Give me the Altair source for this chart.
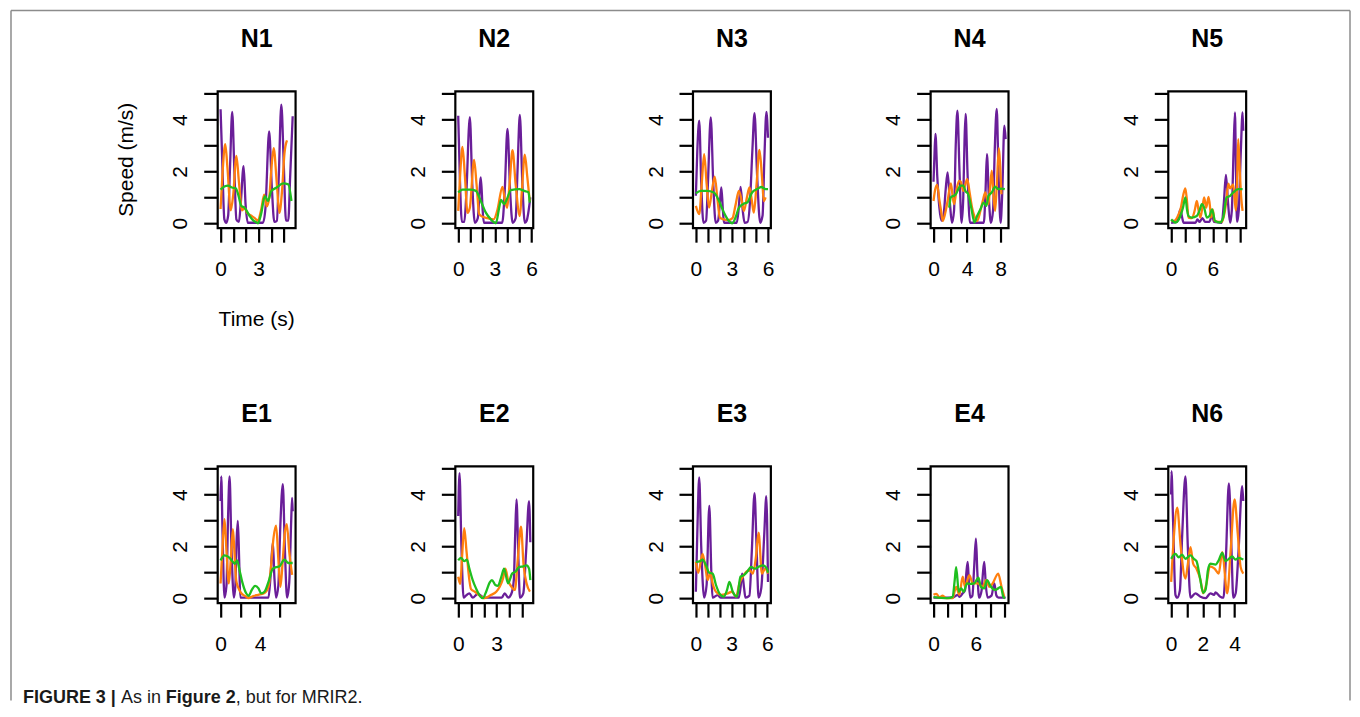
import altair as alt
import pandas as pd

FONT = "Liberation Sans"
PURPLE = "#6a1e99"
ORANGE = "#ff7f0e"
GREEN = "#1fbf1f"
LW = 2.3
W, H = 78, 137

Y_TICKS = [0, 1, 2, 3, 4, 5]
Y_LABELS = [0, 2, 4]
Y_DOMAIN = [-0.19, 5.09]

# ---------------- data: (time s, speed m/s) ----------------
N1_PURPLE = [(0, 4.4), (0.12, 2.6), (0.3, 0.15), (0.45, 0.02), (0.6, 0.3), (0.75, 2.2), (0.92, 4.3), (1.08, 2.2),
             (1.25, 0.15), (1.45, 0.05), (1.6, 0.8), (1.82, 2.2), (1.98, 0.7), (2.15, 0.02), (3.35, 0.02), (3.55, 0.6),
             (3.84, 3.55), (4.05, 1.4), (4.25, 0.05), (4.45, 0.1), (4.6, 1.8), (4.8, 4.58), (5.0, 2.2), (5.17, 0.1),
             (5.35, 0.1), (5.5, 1.8), (5.7, 4.13)]
N1_ORANGE = [(0, 0.55), (0.15, 1.9), (0.37, 3.05), (0.55, 2.1), (0.8, 0.5), (1.0, 1.1), (1.25, 2.6), (1.45, 1.6),
             (1.7, 0.5), (1.9, 0.6), (2.1, 0.4), (2.4, 0.3), (2.7, 0.2), (2.95, 0.1), (3.2, 0.5), (3.45, 1.1),
             (3.65, 0.65), (3.85, 1.0), (4.0, 2.0), (4.2, 2.9), (4.45, 1.5), (4.65, 0.4), (4.85, 1.2), (5.05, 2.7),
             (5.25, 3.2)]
N1_GREEN = [(0, 1.3), (0.3, 1.42), (0.6, 1.45), (0.9, 1.38), (1.2, 1.35), (1.4, 1.1), (1.64, 0.67), (1.9, 0.6),
            (2.3, 0.28), (2.6, 0.1), (2.85, 0.03), (2.96, 0.0), (3.2, 0.35), (3.5, 1.05), (3.75, 0.86), (4.0, 1.24),
            (4.4, 1.37), (4.95, 1.54), (5.35, 1.5), (5.6, 0.86)]

N2_PURPLE = [(0, 4.15), (0.12, 2.0), (0.3, 0.05), (0.5, 0.05), (0.65, 1.0), (0.95, 4.1), (1.15, 1.5), (1.36, 0.02),
             (1.6, 0.2), (1.85, 1.77), (2.0, 0.5), (2.1, 0.02), (3.6, 0.02), (3.8, 1.2), (4.03, 3.64), (4.25, 1.2),
             (4.45, 0.02), (4.7, 0.2), (4.85, 2.0), (5.04, 4.18), (5.25, 1.5), (5.45, 0.02), (5.6, 0.1), (5.9, 1.0)]
N2_ORANGE = [(0, 0.48), (0.15, 1.8), (0.35, 2.95), (0.55, 1.8), (0.76, 0.4), (0.95, 0.6), (1.3, 2.45), (1.5, 1.5),
             (1.72, 0.35), (2.0, 0.25), (2.4, 0.2), (2.9, 0.15), (3.2, 0.5), (3.62, 1.4), (3.82, 0.9), (4.0, 0.6),
             (4.2, 1.5), (4.44, 2.82), (4.7, 1.5), (5.04, 0.28), (5.2, 1.2), (5.45, 2.65), (5.65, 1.8), (5.85, 0.86)]
N2_GREEN = [(0, 1.19), (0.35, 1.3), (0.7, 1.3), (1.0, 1.3), (1.45, 1.25), (1.85, 0.86), (2.26, 0.41), (2.67, 0.15),
            (2.94, 0.03), (3.08, 0.0), (3.35, 0.6), (3.5, 0.9), (3.76, 0.74), (3.98, 0.93), (4.3, 1.28), (5.0, 1.32),
            (5.4, 1.25), (5.75, 1.2), (5.85, 0.8)]

N3_PURPLE = [(0, 1.06), (0.12, 2.8), (0.28, 3.96), (0.45, 1.5), (0.63, 0.02), (0.85, 0.1), (1.0, 1.5), (1.24, 4.09),
             (1.45, 1.5), (1.65, 0.02), (1.85, 0.1), (2.0, 0.8), (2.12, 1.38), (2.25, 0.5), (2.34, 0.02), (3.4, 0.02),
             (3.55, 0.5), (3.72, 1.4), (3.9, 0.5), (4.05, 0.02), (4.3, 0.05), (4.5, 0.8), (4.7, 2.8), (4.88, 4.25),
             (5.1, 1.8), (5.35, 0.02), (5.55, 0.3), (5.7, 2.5), (5.87, 4.3), (6.0, 3.3)]
N3_ORANGE = [(0, 0.67), (0.28, 0.35), (0.5, 1.6), (0.69, 2.67), (0.9, 1.5), (1.1, 0.6), (1.35, 1.3), (1.57, 1.8),
             (1.8, 0.9), (2.0, 0.22), (2.3, 0.15), (2.7, 0.12), (3.05, 0.2), (3.3, 0.7), (3.58, 1.25), (3.8, 0.9),
             (4.0, 0.48), (4.25, 1.0), (4.46, 1.38), (4.65, 0.9), (4.82, 0.41), (5.05, 1.5), (5.29, 2.83), (5.5, 1.8),
             (5.65, 0.86), (5.8, 1.0)]
N3_GREEN = [(0, 1.15), (0.4, 1.25), (0.9, 1.25), (1.5, 1.19), (1.93, 0.86), (2.34, 0.41), (2.75, 0.09), (3.03, 0.0),
            (3.3, 0.22), (3.58, 0.6), (4.0, 0.76), (4.27, 0.8), (4.68, 1.19), (5.1, 1.32), (5.43, 1.4), (5.8, 1.32),
            (6.0, 1.32)]

N4_PURPLE = [(0, 1.6), (0.1, 2.5), (0.23, 3.45), (0.45, 1.8), (0.7, 0.6), (0.95, 0.1), (1.2, 0.3), (1.45, 1.3),
             (1.68, 1.96), (1.95, 0.8), (2.2, 0.02), (2.45, 0.5), (2.65, 3.0), (2.85, 4.35), (3.1, 2.0), (3.35, 0.02),
             (3.55, 1.0), (3.7, 3.2), (3.83, 4.22), (4.05, 2.0), (4.35, 0.02), (6.0, 0.02), (6.2, 1.2), (6.37, 2.67),
             (6.6, 1.0), (6.84, 0.02), (7.1, 0.5), (7.3, 2.8), (7.54, 4.41), (7.75, 2.0), (8.0, 0.02), (8.2, 1.2),
             (8.45, 3.77), (8.6, 3.25)]
N4_ORANGE = [(0, 0.86), (0.2, 1.3), (0.43, 1.48), (0.7, 0.9), (0.9, 0.48), (1.1, 0.09), (1.4, 0.4), (1.68, 0.86),
             (2.07, 1.54), (2.3, 1.0), (2.46, 0.74), (2.75, 1.3), (3.05, 1.64), (3.25, 1.6), (3.55, 1.25), (3.8, 1.5),
             (4.02, 1.7), (4.3, 1.2), (4.6, 0.6), (4.9, 0.25), (5.2, 0.09), (5.59, 0.48), (5.9, 0.9), (6.17, 1.19),
             (6.4, 0.9), (6.56, 0.74), (6.75, 1.4), (6.95, 2.03), (7.15, 1.1), (7.34, 0.48), (7.55, 1.5), (7.8, 2.9),
             (7.95, 2.2), (8.1, 1.12)]
N4_GREEN = [(1.87, 0.6), (2.07, 1.0), (2.66, 1.12), (3.0, 1.35), (3.24, 1.45), (3.55, 1.45), (3.83, 1.23), (4.1, 1.15),
            (4.5, 0.6), (4.88, 0.03), (5.2, 0.28), (5.59, 0.54), (5.98, 0.8), (6.29, 0.67), (6.56, 1.06), (6.95, 1.19),
            (7.34, 1.41), (7.73, 1.32), (8.1, 1.34), (8.5, 1.32)]

N5_PURPLE = [(0, 0.02), (0.8, 0.05), (1.1, 0.3), (1.33, 0.54), (1.6, 0.2), (1.8, 0.02), (3.5, 0.02), (3.8, 0.15),
             (4.1, 0.05), (4.5, 0.2), (4.9, 0.05), (5.5, 0.05), (5.9, 0.3), (6.2, 0.05), (7.3, 0.02), (7.6, 0.8),
             (7.9, 1.87), (8.2, 0.8), (8.5, 0.02), (8.75, 0.5), (9.0, 2.8), (9.2, 4.28), (9.35, 2.0), (9.5, 0.05),
             (9.75, 0.5), (10.05, 2.8), (10.3, 4.28), (10.4, 3.57)]
N5_ORANGE = [(0, 0.09), (0.5, 0.1), (1.0, 0.3), (1.4, 0.6), (1.75, 1.1), (2.05, 1.35), (2.3, 0.8), (2.5, 0.22),
             (3.0, 0.2), (3.4, 0.5), (3.7, 0.86), (3.95, 0.5), (4.2, 0.22), (4.5, 0.6), (4.76, 1.0), (5.05, 0.6),
             (5.4, 1.02), (5.65, 0.5), (5.75, 0.22), (6.0, 0.54), (6.25, 0.1), (6.8, 0.05), (7.3, 0.05), (7.7, 0.4),
             (7.95, 0.86), (8.24, 1.53), (8.5, 1.35), (8.95, 1.5), (9.2, 0.8), (9.35, 0.5), (9.5, 1.5), (9.67, 3.25),
             (9.9, 2.0), (10.1, 1.0), (10.3, 0.48)]
N5_GREEN = [(0, 0.15), (0.6, 0.03), (1.33, 0.28), (1.7, 0.6), (2.05, 1.0), (2.3, 0.5), (2.5, 0.28), (3.0, 0.22),
            (3.7, 0.28), (4.1, 0.5), (4.43, 0.74), (4.76, 0.6), (5.14, 0.22), (5.52, 0.28), (5.9, 0.54), (6.33, 0.09),
            (7.05, 0.03), (7.5, 0.22), (8.0, 1.0), (8.5, 1.06), (8.95, 1.19), (9.67, 1.32), (10.3, 1.32)]

E1_PURPLE = [(0, 3.75), (0.07, 4.7), (0.2, 2.5), (0.4, 0.02), (0.6, 0.5), (0.75, 3.0), (0.91, 4.7), (1.1, 2.0),
             (1.35, 0.02), (1.5, 0.5), (1.62, 2.2), (1.75, 2.98), (1.88, 1.5), (2.0, 0.02), (4.85, 0.02), (5.05, 0.8),
             (5.29, 2.16), (5.45, 0.8), (5.62, 0.02), (5.85, 0.5), (6.05, 2.8), (6.3, 4.4), (6.5, 2.0), (6.73, 0.02),
             (6.95, 0.6), (7.15, 3.0), (7.24, 3.87), (7.3, 3.36)]
E1_ORANGE = [(0, 0.57), (0.2, 2.0), (0.4, 3.05), (0.6, 1.8), (0.84, 0.57), (1.05, 1.6), (1.25, 2.67), (1.4, 1.8),
             (1.58, 0.7), (1.8, 0.4), (2.1, 0.19), (2.5, 0.08), (2.83, 0.0), (3.3, 0.08), (3.8, 0.13), (4.4, 0.19),
             (4.85, 0.44), (5.1, 1.2), (5.35, 2.3), (5.62, 2.8), (5.85, 1.5), (6.06, 0.44), (6.3, 1.5), (6.5, 2.5),
             (6.7, 2.86), (6.95, 1.8), (7.24, 0.9)]
E1_GREEN = [(0, 1.46), (0.4, 1.65), (0.91, 1.56), (1.25, 1.4), (1.45, 1.33), (1.68, 1.46), (1.92, 1.08), (2.19, 0.63),
            (2.59, 0.19), (2.83, 0.09), (3.16, 0.32), (3.5, 0.48), (3.84, 0.38), (4.1, 0.19), (4.44, 0.25),
            (4.85, 0.63), (5.29, 1.14), (5.62, 1.2), (5.96, 1.23), (6.46, 1.49), (6.85, 1.36), (7.3, 1.36)]

E2_PURPLE = [(0, 3.17), (0.1, 4.83), (0.25, 2.0), (0.42, 0.02), (0.6, 0.1), (0.87, 0.19), (1.13, 0.02), (1.53, 0.17),
             (2.05, 0.02), (3.4, 0.02), (3.63, 0.19), (3.9, 0.02), (4.15, 0.17), (4.34, 0.7), (4.45, 2.5),
             (4.55, 3.81), (4.7, 1.5), (4.82, 0.02), (5.08, 0.19), (5.3, 1.8), (5.53, 3.75), (5.63, 2.16)]
E2_ORANGE = [(0, 0.83), (0.16, 0.55), (0.3, 1.6), (0.47, 2.7), (0.65, 1.8), (0.87, 0.7), (1.0, 0.35), (1.3, 0.25),
             (1.8, 0.06), (2.05, 0.0), (2.58, 0.13), (2.97, 0.25), (3.24, 0.44), (3.5, 0.76), (3.68, 1.14),
             (3.89, 0.7), (4.16, 0.44), (4.42, 0.32), (4.65, 1.5), (4.9, 2.76), (5.1, 1.3), (5.34, 0.57), (5.6, 0.25)]
E2_GREEN = [(0, 1.46), (0.21, 1.56), (0.47, 1.43), (0.68, 1.49), (0.87, 1.14), (1.13, 0.7), (1.39, 0.38), (1.74, 0.06),
            (1.92, 0.0), (2.18, 0.25), (2.45, 0.6), (2.63, 0.7), (2.9, 0.51), (3.1, 0.48), (3.37, 0.83), (3.58, 1.14),
            (3.89, 0.57), (4.21, 0.95), (4.47, 1.02), (4.74, 1.2), (5.08, 1.23), (5.34, 1.27), (5.53, 1.14),
            (5.63, 0.7)]

E3_PURPLE = [(0, 0.25), (0.12, 2.5), (0.28, 4.66), (0.45, 2.0), (0.7, 0.02), (0.9, 0.5), (1.13, 3.56), (1.3, 1.0),
             (1.4, 0.02), (1.83, 0.12), (2.1, 0.02), (3.6, 0.02), (3.75, 0.4), (3.89, 0.95), (4.05, 0.4), (4.17, 0.02),
             (4.5, 0.1), (4.7, 1.8), (4.93, 4.06), (5.1, 2.0), (5.27, 0.02), (5.5, 0.4), (5.75, 2.5), (5.92, 3.94),
             (6.06, 0.63)]
E3_ORANGE = [(0, 1.4), (0.2, 0.98), (0.56, 1.71), (0.8, 1.2), (0.99, 0.7), (1.21, 1.0), (1.41, 0.57), (1.69, 0.25),
             (2.11, 0.13), (2.68, 0.19), (3.03, 0.25), (3.38, 0.06), (3.66, 0.57), (3.94, 0.83), (4.23, 1.02),
             (4.51, 1.08), (4.79, 0.95), (5.05, 1.6), (5.27, 2.53), (5.55, 0.95), (5.83, 1.14), (6.06, 0.95)]
E3_GREEN = [(0, 1.4), (0.37, 1.43), (0.56, 1.49), (0.85, 1.27), (1.13, 0.98), (1.41, 0.95), (1.69, 0.51), (2.06, 0.13),
            (2.34, 0.06), (2.62, 0.32), (2.82, 0.63), (3.1, 0.25), (3.46, 0.06), (3.75, 0.83), (4.03, 0.89),
            (4.31, 1.02), (4.65, 1.21), (4.93, 1.14), (5.27, 1.21), (5.63, 1.27), (5.97, 1.14), (6.06, 0.98)]

E4_PURPLE = [(0, 0.02), (2.7, 0.02), (3.05, 0.08), (3.43, 0.13), (3.7, 0.05), (4.13, 0.19), (4.45, 0.3), (4.65, 1.0),
             (4.84, 1.4), (5.0, 0.6), (5.2, 0.02), (5.5, 0.1), (5.75, 1.2), (6.0, 2.3), (6.2, 1.0), (6.45, 0.02),
             (6.8, 0.3), (7.0, 1.0), (7.18, 1.4), (7.4, 0.5), (7.65, 0.02), (8.2, 0.1), (8.6, 0.57), (8.9, 0.1),
             (9.2, 0.02), (10.2, 0.02)]
E4_ORANGE = [(0, 0.13), (0.4, 0.17), (0.85, 0.04), (1.3, 0.1), (1.8, 0.0), (2.7, 0.0), (3.2, 0.44), (3.65, 0.13),
             (4.13, 0.83), (4.46, 0.44), (5.07, 0.89), (5.54, 0.57), (6.24, 0.57), (6.95, 0.44), (7.42, 0.7),
             (7.89, 0.44), (8.36, 0.57), (9.15, 0.95), (9.62, 0.44), (10.0, 0.06)]
E4_GREEN = [(0, 0.04), (2.0, 0.0), (2.7, 0.06), (3.0, 0.7), (3.2, 1.2), (3.57, 0.25), (3.9, 0.38), (4.27, 0.25),
            (4.74, 0.57), (5.21, 0.55), (5.77, 0.57), (6.34, 0.79), (6.71, 0.44), (7.18, 0.38), (7.56, 0.7),
            (8.12, 0.44), (8.69, 0.32), (9.15, 0.38), (9.53, 0.44), (9.86, 0.06), (10.1, 0.0)]

N6_PURPLE = [(0, 4.0), (0.02, 4.9), (0.12, 3.0), (0.27, 0.13), (0.38, 0.02), (0.55, 0.3), (0.7, 2.5), (0.9, 4.7),
             (1.05, 2.0), (1.22, 0.02), (1.53, 0.19), (1.85, 0.06), (2.17, 0.0), (2.48, 0.19), (2.7, 0.13),
             (2.8, 0.22), (3.1, 0.06), (3.3, 0.02), (3.45, 1.5), (3.64, 4.43), (3.8, 2.0), (3.92, 0.02), (4.07, 0.19),
             (4.25, 1.8), (4.48, 4.33), (4.55, 3.75)]
N6_ORANGE = [(0, 0.63), (0.15, 2.2), (0.38, 3.5), (0.6, 2.0), (0.9, 0.76), (1.05, 1.3), (1.22, 1.97), (1.39, 1.33),
             (1.6, 1.14), (1.85, 0.7), (2.02, 0.19), (2.23, 0.57), (2.44, 1.23), (2.74, 1.14), (3.0, 0.95),
             (3.22, 1.78), (3.54, 0.19), (3.75, 1.8), (4.0, 3.81), (4.2, 2.5), (4.38, 1.21), (4.55, 0.95)]
N6_GREEN = [(0, 1.52), (0.27, 1.71), (0.48, 1.58), (0.69, 1.68), (0.9, 1.52), (1.22, 1.65), (1.43, 1.52), (1.6, 1.43),
            (1.81, 0.82), (2.02, 0.21), (2.17, 0.32), (2.32, 1.08), (2.48, 1.33), (2.8, 1.3), (3.0, 1.46), (3.22, 1.75),
            (3.43, 1.43), (3.64, 1.52), (3.85, 1.61), (4.06, 1.49), (4.27, 1.56), (4.55, 1.49)]

# x-axis ticks and the tick labels that are printed
N1_XTICKS, N1_XLABELS = [0, 1, 2, 3, 4, 5], [0, 3]
N2_XTICKS, N2_XLABELS = [0, 1, 2, 3, 4, 5, 6], [0, 3, 6]
N3_XTICKS, N3_XLABELS = [0, 1, 2, 3, 4, 5, 6], [0, 3, 6]
N4_XTICKS, N4_XLABELS = [0, 2, 4, 6, 8], [0, 4, 8]
N5_XTICKS, N5_XLABELS = [0, 2, 4, 6, 8, 10], [0, 6]
E1_XTICKS, E1_XLABELS = [0, 2, 4, 6], [0, 4]
E2_XTICKS, E2_XLABELS = [0, 1, 2, 3, 4, 5], [0, 3]
E3_XTICKS, E3_XLABELS = [0, 1, 2, 3, 4, 5, 6], [0, 3, 6]
E4_XTICKS, E4_XLABELS = [0, 2, 4, 6, 8, 10], [0, 6]
N6_XTICKS, N6_XLABELS = [0, 1, 2, 3, 4], [0, 2, 4]

ONE = pd.DataFrame({"k": [0]})


def lab_expr(labels):
    return "indexof(" + str(list(labels)) + ", datum.value) >= 0 ? datum.label : ''"


def text_layer(text, x, y, size, weight="normal", angle=0, align="center", baseline="middle", color="black"):
    return alt.Chart(ONE).mark_text(text=text, font=FONT, fontSize=size, fontWeight=weight, angle=angle,
                                    align=align, baseline=baseline, color=color).encode(
        x=alt.value(x), y=alt.value(y))


def make_panel(name, purple, orange, green, xticks, xlabels, extras=()):
    tmax = max(p[0] for s in (purple, orange, green) for p in s)
    ext = 0.04 * tmax
    xenc = alt.X("t:Q", title=None,
                 scale=alt.Scale(domain=[-ext, tmax + ext], nice=False, zero=False),
                 axis=alt.Axis(values=xticks, labelExpr=lab_expr(xlabels), tickSize=14, tickWidth=2.2,
                               tickColor="black", domain=False, grid=False, labelFontSize=21, labelFont=FONT,
                               labelColor="black", labelPadding=27, labelBaseline="middle", labelAlign="center",
                               labelFlush=False, labelOverlap=False))
    yenc = alt.Y("v:Q", title=None,
                 scale=alt.Scale(domain=Y_DOMAIN, nice=False, zero=False),
                 axis=alt.Axis(values=Y_TICKS, labelExpr=lab_expr(Y_LABELS), tickSize=14, tickWidth=2.2,
                               tickColor="black", domain=False, grid=False, labelFontSize=21, labelFont=FONT,
                               labelColor="black", labelPadding=23, labelAngle=270, labelAlign="center",
                               labelBaseline="middle", labelFlush=False, labelOverlap=False))
    layers = []
    for series, color in ((purple, PURPLE), (orange, ORANGE), (green, GREEN)):
        df = pd.DataFrame(series, columns=["t", "v"])
        layers.append(alt.Chart(df).mark_line(color=color, strokeWidth=LW, interpolate="monotone",
                                              clip=True).encode(x=xenc, y=yenc))
    layers.append(text_layer(name, W / 2, -52, 25, weight="bold"))
    layers.extend(extras)
    return alt.layer(*layers).properties(width=W, height=H)


FRAME = "#8c8c8c"
frame_layers = [
    alt.Chart(ONE).mark_rule(color=FRAME, strokeWidth=1.5).encode(
        x=alt.value(-207), y=alt.value(-81), y2=alt.value(610)),
    alt.Chart(ONE).mark_rule(color=FRAME, strokeWidth=1.5).encode(
        x=alt.value(-207), x2=alt.value(1134), y=alt.value(-81)),
    alt.Chart(ONE).mark_rule(color=FRAME, strokeWidth=1.5).encode(
        x=alt.value(1134), y=alt.value(-81), y2=alt.value(610)),
    text_layer("Speed (m/s)", -91, H / 2, 21, angle=270),
    text_layer("Time (s)", W / 2, 229, 21),
]

CAP_Y = 232
CAP_SIZE = 18
CAP_COLOR = "#1a1a1a"
caption_layers = [
    text_layer("FIGURE 3 |", -195, CAP_Y, CAP_SIZE, weight="bold", align="left", color=CAP_COLOR),
    text_layer("As in", -96.9, CAP_Y, CAP_SIZE, align="left", color=CAP_COLOR),
    text_layer("Figure 2", -51.9, CAP_Y, CAP_SIZE, weight="bold", align="left", color=CAP_COLOR),
    text_layer(", but for MRIR2.", 18.1, CAP_Y, CAP_SIZE, align="left", color=CAP_COLOR),
]

panels = [
    make_panel("N1", N1_PURPLE, N1_ORANGE, N1_GREEN, N1_XTICKS, N1_XLABELS, frame_layers),
    make_panel("N2", N2_PURPLE, N2_ORANGE, N2_GREEN, N2_XTICKS, N2_XLABELS),
    make_panel("N3", N3_PURPLE, N3_ORANGE, N3_GREEN, N3_XTICKS, N3_XLABELS),
    make_panel("N4", N4_PURPLE, N4_ORANGE, N4_GREEN, N4_XTICKS, N4_XLABELS),
    make_panel("N5", N5_PURPLE, N5_ORANGE, N5_GREEN, N5_XTICKS, N5_XLABELS),
    make_panel("E1", E1_PURPLE, E1_ORANGE, E1_GREEN, E1_XTICKS, E1_XLABELS, caption_layers),
    make_panel("E2", E2_PURPLE, E2_ORANGE, E2_GREEN, E2_XTICKS, E2_XLABELS),
    make_panel("E3", E3_PURPLE, E3_ORANGE, E3_GREEN, E3_XTICKS, E3_XLABELS),
    make_panel("E4", E4_PURPLE, E4_ORANGE, E4_GREEN, E4_XTICKS, E4_XLABELS),
    make_panel("N6", N6_PURPLE, N6_ORANGE, N6_GREEN, N6_XTICKS, N6_XLABELS),
]

chart = alt.concat(*panels, columns=5, spacing={"row": 238.5, "column": 160}, bounds="flush").properties(
    padding={"left": 1, "top": 0, "right": 0, "bottom": 0},
    background="white",
).configure_view(stroke="black", strokeWidth=2.2)

chart.save("out.html", embed_options={"renderer": "svg", "actions": False})
